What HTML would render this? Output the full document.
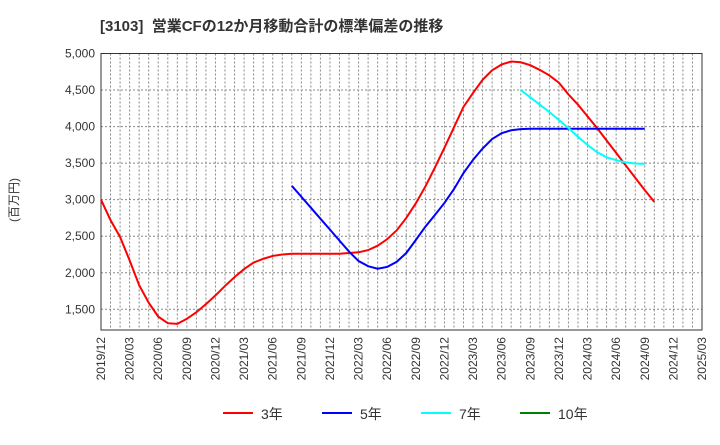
<!DOCTYPE html>
<html><head><meta charset="utf-8"><style>
body{margin:0;background:#fff;font-family:"Liberation Sans","Noto Sans CJK JP",sans-serif}
</style></head><body>
<svg id="c" width="720" height="440" xmlns="http://www.w3.org/2000/svg" style="font-family:'Liberation Sans','Noto Sans CJK JP',sans-serif">
<text x="100" y="31" font-size="15" font-weight="bold" fill="#333">[3103]&#160; 営業CFの12か月移動合計の標準偏差の推移</text>
<text transform="translate(18,200) rotate(-90)" font-size="12" fill="#333" text-anchor="middle">(百万円)</text>
<g id="grid"></g><g id="axes"></g><g id="series"></g><g id="legend"></g>
</svg>
<script>
const yTicks=[1500,2000,2500,3000,3500,4000,4500,5000];
const xLabels=["2019/12","2020/03","2020/06","2020/09","2020/12","2021/03","2021/06","2021/09","2021/12","2022/03","2022/06","2022/09","2022/12","2023/03","2023/06","2023/09","2023/12","2024/03","2024/06","2024/09","2024/12","2025/03"];
const s3Start=0;
const s3=[3000,2720,2490,2170,1830,1590,1400,1310,1300,1370,1460,1570,1690,1820,1940,2050,2140,2190,2230,2250,2260,2260,2260,2260,2260,2260,2270,2280,2310,2370,2460,2580,2750,2950,3180,3440,3710,3990,4270,4460,4640,4770,4850,4890,4880,4840,4775,4700,4600,4440,4300,4140,3980,3810,3640,3470,3300,3130,2970];
const s5Start=20;
const s5=[3190,3040,2890,2740,2590,2440,2290,2160,2090,2055,2080,2150,2270,2448,2630,2790,2955,3145,3365,3545,3700,3830,3910,3950,3965,3970,3970,3970,3970,3970,3970,3970,3970,3970,3970,3970,3970,3970];
const s7Start=44;
const s7=[4500,4400,4300,4200,4090,3980,3860,3750,3650,3580,3540,3510,3495,3490];
const seriesNames=["3年","5年","7年","10年"];
const seriesColors=["#ff0000","#0000ff","#00ffff","#008000"];
const L=101,R=702,T=53.5,B=330,NM=63;
const xm=m=>L+(R-L)*m/NM;
const yv=v=>T+(5000-v)*(309.3-T)/3500;
const NS="http://www.w3.org/2000/svg";
function mk(t,a,p){const e=document.createElementNS(NS,t);for(const k in a)e.setAttribute(k,a[k]);p.appendChild(e);return e;}
const g=document.getElementById('grid'),ax=document.getElementById('axes'),se=document.getElementById('series'),lg=document.getElementById('legend');
for(let m=1;m<NM;m++){const l=mk('line',{x1:xm(m),x2:xm(m),y1:T,y2:B,stroke:'#888','stroke-dasharray':'2,2','stroke-width':1},g);

}
yTicks.forEach(v=>{const l=mk('line',{x1:L,x2:R,y1:yv(v),y2:yv(v),stroke:'#888','stroke-dasharray':'2,2','stroke-width':1},g);


const t=mk('text',{x:L-6,y:yv(v)+4,'font-size':12,fill:'#333','text-anchor':'end'},ax);t.textContent=v.toLocaleString('en-US');

});
xLabels.forEach((s,i)=>{const x=xm(i*3);const t=mk('text',{transform:`translate(${x+4},337) rotate(-90)`,'font-size':12,fill:'#333','text-anchor':'end'},ax);t.textContent=s;

});
const fr=mk('rect',{x:L,y:T,width:R-L,height:B-T,fill:'none',stroke:'#333','stroke-width':1},ax);


[[s3,s3Start,0],[s5,s5Start,1],[s7,s7Start,2]].forEach(([d,st,ci])=>{const p=mk('polyline',{points:d.map((v,i)=>xm(st+i)+','+yv(v)).join(' '),fill:'none',stroke:seriesColors[ci],'stroke-width':2},se);

});
const lx=[223,322,421,520];
seriesNames.forEach((n,i)=>{const ln=mk('line',{x1:lx[i],x2:lx[i]+30,y1:413,y2:413,stroke:seriesColors[i],'stroke-width':2},lg);


const t=mk('text',{x:lx[i]+38,y:419,'font-size':14,fill:'#333'},lg);t.textContent=n;

});
</script>
</body></html>
